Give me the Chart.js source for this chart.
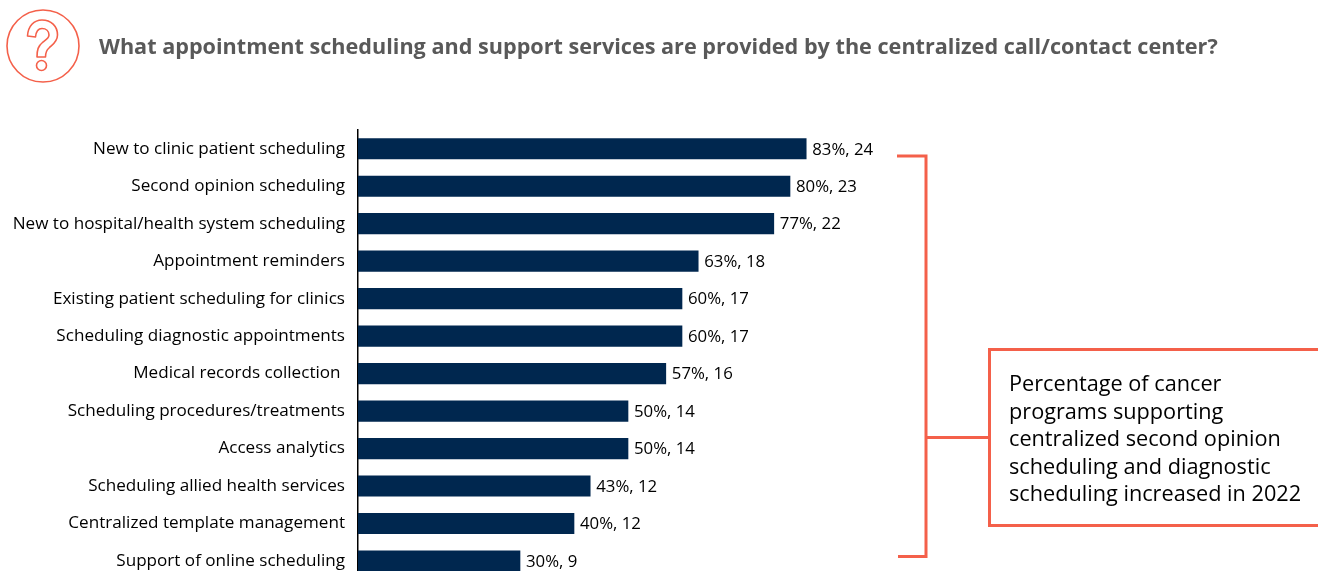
<!DOCTYPE html>
<html>
<head>
<meta charset="utf-8">
<title>Centralized call/contact center services</title>
<script src="https://cdn.jsdelivr.net/npm/chart.js@4"></script>
<style>
    html, body { margin: 0; padding: 0; background: #fff; overflow: hidden; width: 1318px; height: 571px; }
    body { position: relative; font-family: "Open Sans", sans-serif; }
    #myChart { position: absolute; left: 0; top: 0; }
    #marks { position: absolute; left: 0; top: 0; }
    #titulo {
        position: absolute; left: 99px; top: 29px; margin: 0;
        font-size: 21.63px; line-height: 34px; font-weight: 700; color: #595959; white-space: nowrap;
    }
    #nota {
        position: absolute; left: 1009px; top: 369px; margin: 0;
        font-size: 21.7px; line-height: 27.5px; color: #000; white-space: nowrap;
    }
</style>
</head>
<body>
<canvas id="myChart" width="1318" height="603"></canvas>

<svg id="marks" width="1318" height="571" fill="none" stroke="#F4604A">
    <!-- icono de pregunta -->
    <circle cx="43" cy="46" r="36" stroke-width="1.6"/>
    <path stroke-width="1.6" stroke-linejoin="round"
          d="M27.5 36 C28 26 34 20 42 20 C51 20 57.5 26 57.5 35 C57.5 42 52 45 49 48 C46.5 50 45.5 52 45.5 57 L37 57 C37 50 38 46 43 42 C47 39 49 38 49 35 C49 31 46 28.5 42 28.5 C38 28.5 36 32 35.5 37 Z"/>
    <circle cx="41.5" cy="65.5" r="5" stroke-width="1.6"/>
    <!-- corchete y recuadro -->
    <path stroke-width="3" d="M897 156 H926 V556.5 H898"/>
    <path stroke-width="3" d="M926 437.5 H989"/>
    <path stroke-width="3" d="M1320 349.5 H989.5 V525.5 H1320"/>
</svg>

<h1 id="titulo">What appointment scheduling and support services are provided by the centralized call/contact center?</h1>
<p id="nota">Percentage of cancer<br>programs supporting<br>centralized second opinion<br>scheduling and diagnostic<br>scheduling increased in 2022</p>

<script>
    const categorias = [
        "New to clinic patient scheduling",
        "Second opinion scheduling",
        "New to hospital/health system scheduling",
        "Appointment reminders",
        "Existing patient scheduling for clinics",
        "Scheduling diagnostic appointments",
        "Medical records collection ",
        "Scheduling procedures/treatments",
        "Access analytics",
        "Scheduling allied health services",
        "Centralized template management",
        "Support of online scheduling"
    ];
    const porcentajes = [83, 80, 77, 63, 60, 60, 57, 50, 50, 43, 40, 30];
    const cantidades = [24, 23, 22, 18, 17, 17, 16, 14, 14, 12, 12, 9];

    const fuente = '"Open Sans", sans-serif';

    // escribe "83%, 24" al final de cada barra
    const etiquetasBarras = {
        id: "etiquetasBarras",
        afterDatasetsDraw(chart) {
            const ctx = chart.ctx;
            ctx.save();
            ctx.font = "16.8px " + fuente;
            ctx.fillStyle = "#000";
            ctx.textBaseline = "middle";
            chart.getDatasetMeta(0).data.forEach((barra, i) => {
                ctx.fillText(porcentajes[i] + "%, " + cantidades[i], barra.x + 6, barra.y + 1);
            });
            ctx.restore();
        }
    };

    new Chart("myChart", {
        type: "bar",
        data: {
            labels: categorias,
            datasets: [{
                data: porcentajes,
                backgroundColor: "#00274F",
                barThickness: 20.5
            }]
        },
        options: {
            indexAxis: "y",
            responsive: false,
            animation: { duration: 0 },
            layout: { padding: { top: 130, right: 420, bottom: 0, left: 0 } },
            plugins: { legend: { display: false }, tooltip: { enabled: false } },
            scales: {
                x: { display: false, min: 0, max: 100 },
                y: {
                    afterFit(scale) { scale.width = 358; },
                    grid: { display: false, drawTicks: false },
                    border: { color: "#000", width: 1.5 },
                    ticks: { color: "#000", font: { family: fuente, size: 17.1 }, padding: 13, autoSkip: false }
                }
            }
        },
        plugins: [etiquetasBarras]
    });
</script>
</body>
</html>
